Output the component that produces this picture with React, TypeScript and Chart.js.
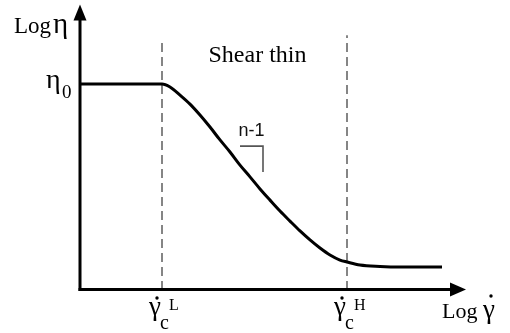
import React, { useEffect, useRef } from "react";
import { Chart, registerables } from "chart.js";

Chart.register(...registerables);

// Flow curve: log shear rate (x) against log viscosity (y)
const logShearRate = [
  0, 2.05, 2.25, 2.5, 2.75, 3.0, 3.25, 3.5, 3.75, 4.0, 4.25, 4.5, 4.75, 5.0,
  5.25, 5.5, 5.75, 6.0, 6.25, 6.5, 6.675, 7.0, 7.5, 8.0, 9.05,
];
const logViscosity = [
  7.36, 7.36, 7.25, 6.96, 6.64, 6.25, 5.82, 5.36, 4.93, 4.46, 4.04, 3.61, 3.21,
  2.82, 2.46, 2.11, 1.79, 1.5, 1.25, 1.07, 1.0, 0.89, 0.84, 0.82, 0.82,
];

// Critical shear rates (lower, upper) and the heights of their guide lines
const criticalRates = [2.05, 6.675];
const criticalLabels = ["L", "H"];
const guideTops = [8.96, 9.1];

// Zero-shear viscosity plateau
const zeroShearViscosity = 7.36;

// Slope marker beside the power-law region
const slopeX = [4.0, 4.575, 4.575];
const slopeY = [5.14, 5.14, 4.21];
const slopeLabel = "n-1";
const regionLabel = "Shear thin";

const X_MIN = 0;
const X_MAX = 10;
const Y_MIN = 0;
const Y_MAX = 10;
const X_ARROW = 9.65;
const Y_ARROW = 10.2;

const SERIF = '"Liberation Serif", "Times New Roman", serif';
const SANS = '"Liberation Sans", Arial, sans-serif';

const toPoints = (xs: number[], ys: number[]) =>
  xs.map((x, i) => ({ x, y: ys[i] }));

// small dot used for the time-derivative mark over γ
const dot = (ctx: CanvasRenderingContext2D, x: number, y: number) => {
  ctx.beginPath();
  ctx.arc(x, y, 1.7, 0, Math.PI * 2);
  ctx.fill();
};

const axesAndLabels = {
  id: "axesAndLabels",
  afterDatasetsDraw(chart: any) {
    const { ctx, chartArea, scales } = chart;
    const { left, bottom } = chartArea;
    const xs = scales.x;
    const ys = scales.y;
    ctx.save();
    ctx.fillStyle = "#000";
    ctx.strokeStyle = "#000";
    ctx.lineWidth = 3;
    ctx.lineCap = "butt";

    // vertical axis with arrow
    const yTip = ys.getPixelForValue(Y_ARROW);
    ctx.beginPath();
    ctx.moveTo(left, bottom + 1);
    ctx.lineTo(left, yTip + 12);
    ctx.stroke();
    ctx.beginPath();
    ctx.moveTo(left, yTip);
    ctx.lineTo(left - 6.5, yTip + 16);
    ctx.lineTo(left + 6.5, yTip + 16);
    ctx.closePath();
    ctx.fill();

    // horizontal axis with arrow
    const xTip = xs.getPixelForValue(X_ARROW);
    const axisY = bottom - 0.5;
    ctx.beginPath();
    ctx.moveTo(left - 1.5, axisY);
    ctx.lineTo(xTip - 12, axisY);
    ctx.stroke();
    ctx.beginPath();
    ctx.moveTo(xTip, axisY);
    ctx.lineTo(xTip - 16, axisY - 7);
    ctx.lineTo(xTip - 16, axisY + 7);
    ctx.closePath();
    ctx.fill();

    ctx.textBaseline = "alphabetic";

    // vertical axis title: Log η
    ctx.textAlign = "left";
    ctx.font = `23px ${SERIF}`;
    ctx.fillText("Log", 14, 33);
    ctx.font = `29px ${SERIF}`;
    ctx.fillText("η", 53, 33);

    // zero-shear viscosity mark η0
    const etaY = ys.getPixelForValue(zeroShearViscosity);
    ctx.font = `28px ${SERIF}`;
    ctx.fillText("η", 46, etaY + 4);
    ctx.font = `19px ${SERIF}`;
    ctx.fillText("0", 62, etaY + 14);

    // region label
    ctx.font = `24px ${SERIF}`;
    ctx.textAlign = "center";
    const midX = (xs.getPixelForValue(criticalRates[0]) + xs.getPixelForValue(criticalRates[1])) / 2;
    ctx.fillText(regionLabel, midX + 3, 62);

    // critical shear-rate labels γ̇c^L and γ̇c^H
    criticalRates.forEach((rate, i) => {
      const px = xs.getPixelForValue(rate);
      const gx = px - 7;
      ctx.textAlign = "center";
      ctx.font = `27px ${SERIF}`;
      ctx.fillText("γ", gx, bottom + 25);
      dot(ctx, gx + 2, bottom + 8);
      ctx.textAlign = "left";
      ctx.font = `20px ${SERIF}`;
      ctx.fillText("c", px - 2, bottom + 39);
      ctx.font = `16px ${SERIF}`;
      ctx.fillText(criticalLabels[i], px + 7, bottom + 20);
    });

    // horizontal axis title: Log γ̇
    ctx.textAlign = "left";
    ctx.font = `22px ${SERIF}`;
    ctx.fillText("Log", 442, bottom + 28);
    ctx.textAlign = "center";
    ctx.font = `27px ${SERIF}`;
    ctx.fillText("γ", 489, bottom + 28);
    dot(ctx, 491, bottom + 6);

    // slope label
    ctx.font = `18px ${SANS}`;
    ctx.textAlign = "center";
    ctx.fillStyle = "#111";
    const sx = (xs.getPixelForValue(slopeX[0]) + xs.getPixelForValue(slopeX[1])) / 2;
    ctx.fillText(slopeLabel, sx, ys.getPixelForValue(slopeY[0]) - 10);

    ctx.restore();
  },
};

export default function App() {
  const canvasRef = useRef<HTMLCanvasElement | null>(null);

  useEffect(() => {
    const canvas = canvasRef.current;
    if (!canvas) return;
    const chart = new Chart(canvas, {
      type: "line",
      data: {
        datasets: [
          {
            data: toPoints(logShearRate, logViscosity),
            borderColor: "#000",
            borderWidth: 3,
            cubicInterpolationMode: "monotone",
            pointRadius: 0,
            fill: false,
          },
          ...criticalRates.map((rate, i) => ({
            data: [
              { x: rate, y: Y_MIN },
              { x: rate, y: guideTops[i] },
            ],
            borderColor: "#5e5e5e",
            borderWidth: 1.5,
            borderDash: [9, 5],
            pointRadius: 0,
            fill: false,
          })),
          {
            data: toPoints(slopeX, slopeY),
            borderColor: "#555",
            borderWidth: 1.6,
            tension: 0,
            pointRadius: 0,
            fill: false,
          },
        ],
      },
      options: {
        animation: false,
        responsive: false,
        devicePixelRatio: 1,
        layout: { padding: { left: 80, right: 30, top: 10, bottom: 43 } },
        scales: {
          x: { type: "linear", min: X_MIN, max: X_MAX, display: false },
          y: { type: "linear", min: Y_MIN, max: Y_MAX, display: false },
        },
        plugins: {
          legend: { display: false },
          tooltip: { enabled: false },
        },
      },
      plugins: [axesAndLabels],
    });
    return () => chart.destroy();
  }, []);

  return (
    <div
      style={{
        position: "absolute",
        left: 0,
        top: 0,
        width: 510,
        height: 333,
        background: "#fff",
      }}
    >
      <canvas ref={canvasRef} width={510} height={333} />
    </div>
  );
}
